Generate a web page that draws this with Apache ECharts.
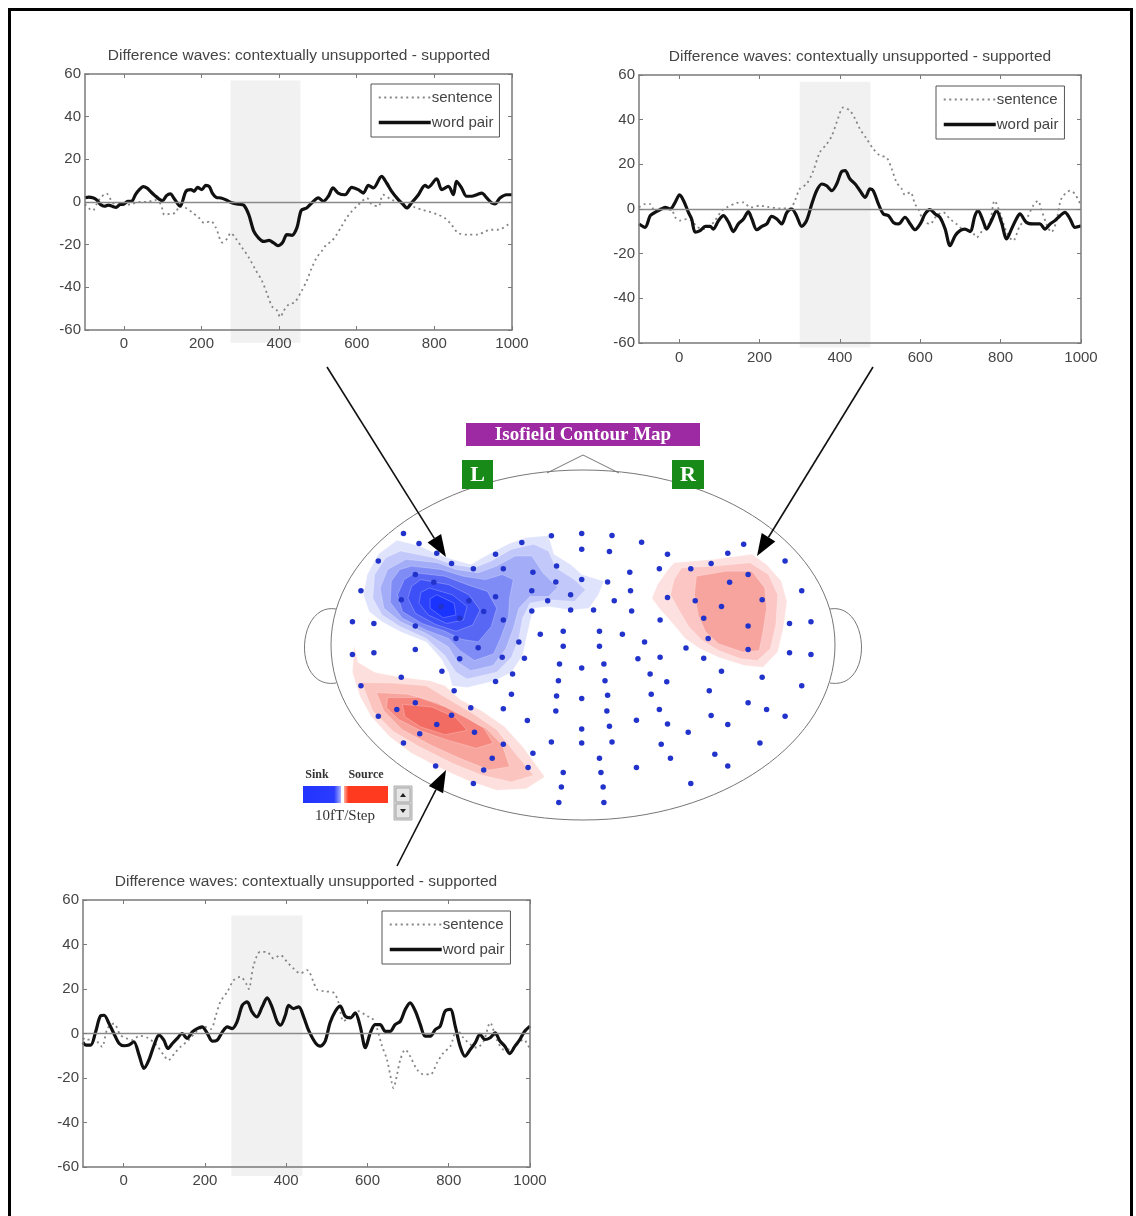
<!DOCTYPE html>
<html>
<head>
<meta charset="utf-8">
<script src="https://cdn.jsdelivr.net/npm/echarts@6/dist/echarts.min.js"></script>
<style>
  html, body { margin: 0; padding: 0; background: #fff; }
  #main { width: 1136px; height: 1216px; }
</style>
</head>
<body>
<div id="main"></div>
<script>
// ---------- axis ticks and labels ----------
const timeTicks = [0, 200, 400, 600, 800, 1000];      // ms
const ampTicks = [-60, -40, -20, 0, 20, 40, 60];       // fT
const panelTitle = 'Difference waves: contextually unsupported - supported';
const seriesNames = ['sentence', 'word pair'];

// ---------- difference waves, [time ms, amplitude fT] ----------
// left anterior sensor (upper left panel)
const leftSentence = [[-100,-1],[-90,-3],[-80,-4],[-70,-1],[-60,2],[-45,4],[-30,0],[-15,-2],[0,-1.5],[20,-1],[40,0],[60,0],[80,1],[95,-1],[105,-6],[120,-5.5],[134,-5],[143,-2],[160,-2.8],[177,-5],[194,-7.5],[207,-9.8],[224,-9],[237,-12],[254,-19],[267,-17],[275,-14.5],[288,-17],[305,-21.5],[322,-26],[339,-31.7],[356,-37],[369,-43],[382,-49],[395,-51],[403,-54],[412,-51],[425,-48],[440,-47],[457,-42],[471,-37],[484,-31],[497,-26],[510,-23],[522,-20],[535,-18.4],[548,-15.3],[561,-11.4],[574,-7.5],[587,-4.4],[600,-2],[613,0.3],[626,1.9],[639,-1.2],[656,-2],[668,3.4],[690,1],[710,0],[730,-1],[750,-2.5],[767,-3.6],[784,-4.4],[810,-6],[827,-7.5],[844,-10.6],[861,-14.5],[887,-15.3],[913,-15.3],[930,-13.8],[948,-13],[965,-13],[990,-10.6],[1000,-10]];
const leftWordPair = [[-100,2],[-90,2.3],[-80,2],[-70,1],[-60,-1.2],[-50,-2],[-40,-1.5],[-30,-2],[-20,-2.5],[-10,-1.2],[0,-1],[10,0.3],[20,0.3],[30,3.5],[40,5.8],[50,7.2],[60,6.5],[70,4.7],[80,3],[90,1.5],[100,0.6],[110,3],[120,3.8],[130,1.5],[145,-2],[160,5],[173,5.8],[181,5],[190,6.9],[201,5.8],[211,7.8],[220,7.3],[228,4.2],[238,2.2],[250,1.9],[262,1.1],[280,-0.5],[297,-1],[309,-1.5],[322,-6],[335,-13.8],[348,-17],[360,-18.5],[374,-18],[386,-19.2],[397,-20.5],[409,-19],[420,-15.3],[433,-15.6],[446,-12],[457,-4],[471,-2.8],[484,-0.5],[501,1.9],[514,0.3],[527,2.7],[539,6.6],[552,4.2],[570,3.4],[587,6.9],[604,5.8],[617,4.2],[630,7.8],[643,6.6],[664,12],[677,8.9],[690,5],[707,1.1],[720,-1.25],[729,-2.8],[741,-0.5],[759,3.4],[776,7.8],[784,6.9],[806,10.9],[819,5.8],[836,7.3],[849,3.4],[857,9.7],[870,6.6],[883,2.7],[896,2.7],[909,3.4],[922,4.2],[935,1.9],[948,-0.5],[956,-0.9],[969,1.9],[986,3.4],[1000,3.4]];

// right anterior sensor (upper right panel)
const rightSentence = [[-100,0.7],[-85,2.2],[-72,2.2],[-60,-1.5],[-47,0.3],[-22,0.7],[-10,-3.7],[2,-5.2],[19,-4.5],[31,-5.2],[45,-8],[60,-9],[75,-8],[90,-5],[105,-1],[118,0.7],[143,2.7],[160,3],[177,0.7],[201,1.5],[218,1],[251,0.3],[276,0.3],[288,3.7],[300,9],[317,11.2],[334,17.2],[350,25.4],[367,29],[380,32.8],[392,38.8],[409,45.5],[425,44],[438,40.3],[450,35.8],[467,31.3],[483,26.9],[500,23.9],[516,23.1],[529,17.9],[541,11.9],[554,9],[562,6.3],[575,7.5],[587,2.2],[595,0],[608,-5.2],[624,-6.7],[641,-3],[657,-1.5],[674,-4.5],[690,-6.7],[707,-9],[724,-9],[740,-12.7],[757,-9],[773,-6],[785,3.7],[798,-1.5],[815,-10.4],[831,-14.2],[848,-7.5],[864,-4.5],[881,1.5],[893,3.7],[901,0],[914,-6.7],[926,-10.4],[938,-6],[951,4.5],[973,8.2],[985,6.7],[1000,1.5]];
const rightWordPair = [[-100,-6.7],[-85,-8.2],[-72,-3],[-60,-1.5],[-47,-0.3],[-35,0.7],[-22,0],[-10,3],[1,6.3],[11,3.7],[23,-1.5],[31,-4.5],[40,-10.4],[52,-9.7],[65,-7.8],[77,-7.8],[85,-9],[98,-5.2],[110,-3],[123,-6],[135,-10.1],[147,-6.7],[160,-4.5],[172,-1.2],[181,-4.5],[193,-9.3],[206,-7.8],[218,-6.7],[230,-3.3],[243,-4.5],[255,-6.7],[268,-1.5],[280,0],[292,-3],[305,-7.8],[317,-5.2],[330,2.2],[342,8.2],[355,11.2],[367,10.4],[380,8.2],[392,11.2],[404,16.7],[413,17.2],[425,13.4],[438,11.2],[450,8.2],[463,5.2],[475,9],[483,8.2],[496,2.2],[508,-2.2],[521,-3],[533,-6],[546,-6.7],[562,-3.7],[575,-6.7],[587,-9.3],[600,-6.7],[612,-2.2],[624,-0.3],[637,-2.2],[649,-3.7],[662,-9],[674,-16.4],[687,-11.9],[699,-9.7],[711,-9],[724,-10.1],[736,-3],[744,-0.7],[756,-5.2],[765,-9],[777,-5.2],[790,-0.7],[802,-6],[815,-13.4],[827,-9],[839,-4.5],[848,-2.2],[864,-6],[881,-6.7],[898,-6.7],[910,-9],[923,-6.7],[935,-5.2],[948,-3],[960,-1.5],[973,-4.5],[985,-8.2],[1000,-7.5]];

// left posterior sensor (lower panel)
const lowerSentence = [[-100,-2],[-93,-3],[-73,-2.2],[-61,-4.5],[-53,-6],[-40,2.2],[-24,4.5],[-8,-0.7],[5,-2],[20,-3],[40,-1],[60,-2],[80,-5],[100,-10],[110,-12],[125,-9],[140,-6],[160,-3],[180,1],[200,3],[215,2],[226,7.5],[238,14.2],[255,18.7],[271,24],[287,25.5],[304,21.7],[308,20],[320,30.7],[336,36.7],[353,36.6],[369,33.7],[386,35.2],[402,32.2],[418,29.2],[435,27],[451,28.5],[476,19.8],[492,19],[517,18.3],[529,13.8],[541,5.5],[558,7.8],[578,10],[599,7.8],[611,7],[623,2.5],[636,-5.7],[648,-11.7],[660,-22.2],[664,-24.5],[672,-19.2],[681,-11.7],[693,-7.2],[705,-10.2],[722,-16.2],[738,-18.4],[755,-18.4],[771,-13.2],[787,-8.7],[804,-5.7],[820,1.8],[836,-1.9],[853,-4.9],[869,-6.4],[886,-3.4],[902,4.8],[918,-2.7],[935,-7.2],[951,-7.2],[967,-4.9],[984,-2.7],[1000,-7.2]];
const lowerWordPair = [[-100,-4],[-93,-5.2],[-81,-5.2],[-69,0.7],[-57,7.9],[-48,8.2],[-36,4.5],[-24,0],[-11,-4.5],[1,-5.5],[13,-5.2],[25,-3.7],[38,-9.7],[50,-15.7],[62,-12],[75,-5.2],[87,-0.7],[99,-3],[109,-6.7],[120,-4.5],[132,-2.2],[144,0],[156,-2.2],[169,0.7],[181,2.2],[193,3],[206,0],[218,-3.4],[230,-3],[243,0.7],[255,3],[267,2.2],[279,5.2],[292,12.7],[304,14.2],[316,9.7],[328,7.5],[341,12],[353,16],[365,12],[378,5.2],[386,3.7],[398,8.2],[406,12.7],[418,11.2],[431,12],[443,7.5],[455,1.5],[472,-4.2],[484,-5.7],[496,-3.4],[508,4.8],[521,10],[533,12.3],[545,7.8],[558,7],[570,9.3],[582,3.3],[595,-6.4],[607,0.3],[619,4],[631,4],[644,1],[656,1],[668,4],[681,5.5],[693,10.8],[705,13.8],[718,10],[730,4],[742,-1.2],[755,-1.2],[767,1.8],[779,3.3],[791,10],[804,10.8],[816,3.3],[828,-5.7],[840,-10.2],[853,-7.2],[865,-4.2],[877,-0.4],[889,-2.7],[902,-1.9],[914,0.3],[926,-3.4],[938,-5.7],[950,-9],[963,-5.7],[975,-2.7],[987,1],[1000,3.3]];

// analysis windows: [start ms, end ms, lower fT, upper fT]
const leftWindow = [275, 455, -66, 57];
const rightWindow = [300, 476, -62, 57];
const lowerWindow = [265, 440, -64, 53];

// ---------- sensor layout (layout units, y grows toward the back) ----------
const sensorX = [308,350,240,398,438,497,557,628,708,790,872,952,790,865,578,658,722,340,390,193,302,410,485,557,460,525,578,655,720,790,860,920,922,878,698,760,655,760,822,925,1000,1022,1085,1140,1185,1228,1340,1385,1240,1190,1022,1097,1168,1278,1002,1120,1240,1352,1410,1132,1240,1352,1410,1072,1120,1002,942,960,900,838,838,740,678,740,620,635,575,510,450,340,228,170,170,228,340,460,412,302,193,240,290,340,398,352,438,500,578,548,525,308,395,497,645,658,708,790,872,838,740,842,735,848,728,850,790,865,938,1005,1030,938,1085,1150,1185,1272,1078,1022,1000,978,1020,975,1168,1278,1385,1135,1240,1290,1340,1140,1185,720,858,722,790,860,727,853,730,790,850,603,557,445,490,578,643,600];
const sensorY = [378,408,460,437,467,483,440,405,385,378,384,404,425,432,483,493,475,500,523,548,575,595,578,566,630,610,635,548,522,515,522,493,548,578,578,560,608,605,605,608,483,440,483,467,437,410,460,548,500,523,568,578,595,575,635,630,653,645,640,690,722,732,737,718,748,745,750,700,677,668,713,668,677,713,700,748,745,717,690,653,645,640,737,732,722,750,787,805,830,920,900,880,945,972,917,968,1003,1045,1080,1000,1068,1120,1072,1030,997,1000,997,1045,1087,1087,1130,1130,1176,1176,958,950,932,1003,1045,1072,1120,1033,1068,1000,968,943,900,855,818,795,787,805,830,845,880,900,920,918,945,905,905,860,868,858,815,815,765,777,765,795,817,845,895,898,933,855];

// isofield levels, outermost first (layout units)
const sinkLevels = [
  [[290,398],[350,415],[400,440],[440,455],[490,470],[530,445],[590,410],[640,390],[700,385],[715,440],[760,470],[790,500],[850,520],[835,560],[810,600],[760,605],[700,595],[660,600],[650,640],[640,690],[630,740],[600,790],[555,815],[480,835],[440,830],[430,790],[410,750],[370,700],[300,670],[250,640],[215,610],[200,560],[210,500],[240,440]],
  [[300,430],[390,450],[440,470],[500,480],[545,460],[600,425],[660,410],[700,430],[720,480],[770,515],[800,545],[770,580],[700,575],[650,585],[630,630],[620,690],[600,745],[560,790],[480,810],[450,790],[420,740],[370,690],[300,655],[250,620],[225,570],[230,500],[260,450]],
  [[315,455],[400,465],[450,485],[510,495],[560,475],[610,445],[655,445],[685,495],[725,538],[700,565],[650,565],[620,600],[605,660],[585,720],[550,770],[490,785],[455,760],[430,715],[370,675],[300,640],[255,600],[245,540],[265,485]],
  [[330,475],[410,485],[470,505],[530,515],[575,500],[605,515],[595,570],[592,625],[572,685],[552,735],[500,755],[460,725],[430,690],[370,665],[305,630],[272,582],[275,520],[298,485]],
  [[340,495],[420,505],[480,530],[535,550],[560,600],[545,655],[510,700],[465,692],[420,668],[358,645],[305,610],[292,560],[310,515]],
  [[355,515],[430,530],[485,560],[515,605],[495,650],[450,668],[395,648],[340,615],[320,570],[330,535]],
  [[378,540],[440,560],[480,595],[470,635],[425,645],[375,620],[350,585],[355,553]],
  [[398,560],[445,585],[450,620],[415,628],[380,600],[380,572]]
];
const sourceRightLevels = [
  [[1040,465],[1150,455],[1250,440],[1290,470],[1330,520],[1345,580],[1335,660],[1320,730],[1280,775],[1230,770],[1160,745],[1110,720],[1070,690],[1040,650],[1000,600],[980,570],[995,530],[1020,490]],
  [[1060,480],[1150,475],[1245,465],[1295,500],[1320,560],[1315,650],[1300,720],[1265,755],[1220,750],[1160,725],[1115,695],[1080,655],[1050,600],[1030,560],[1040,515]],
  [[1100,505],[1180,490],[1250,490],[1285,540],[1290,600],[1280,670],[1270,725],[1225,730],[1160,705],[1125,670],[1105,620],[1095,560]]
];
const sourceLeftLevels = [
  [[175,710],[185,760],[230,790],[300,805],[380,815],[420,830],[460,870],[520,905],[580,950],[630,1010],[690,1100],[640,1135],[560,1140],[480,1110],[400,1070],[330,1030],[270,980],[220,920],[190,860],[170,790]],
  [[195,820],[280,822],[370,830],[430,870],[500,915],[560,960],[610,1030],[660,1095],[600,1115],[520,1095],[440,1060],[350,1010],[280,965],[225,905]],
  [[235,850],[320,855],[400,880],[470,925],[530,955],[575,1005],[595,1070],[540,1080],[460,1045],[380,1005],[305,960],[255,905]],
  [[265,865],[350,865],[420,892],[482,928],[525,955],[550,1000],[505,1015],[430,992],[358,965],[295,930],[262,895]],
  [[305,885],[385,893],[450,925],[480,962],[420,975],[355,952],[312,922]]
];

// ---------- styling ----------
const sinkColors = ['#dfe3fc','#c2c9fa','#a2acf7','#7f8cf5','#5868f5','#3d50f7','#2b41fa','#1b33ff'];
const sourceRightColors = ['#fde1e0','#fbc6c3','#f7a39e'];
const sourceLeftColors = ['#fde0dd','#fbc4bf','#f8a59e','#f5877f','#f26c63'];
const axisGrey = '#7a7a7a';
const textGrey = '#444';
const sansFont = 'Liberation Sans, Arial, sans-serif';
const serifFont = 'Liberation Serif, Times New Roman, serif';

const panels = [
  { box: { left: 85, top: 74, width: 427, height: 256 }, titleAt: [299, 56], legendAt: [371, 84],
    sentence: leftSentence, word: leftWordPair, win: leftWindow },
  { box: { left: 639, top: 75, width: 442, height: 268 }, titleAt: [860, 57], legendAt: [936, 86],
    sentence: rightSentence, word: rightWordPair, win: rightWindow },
  { box: { left: 83, top: 900, width: 447, height: 267 }, titleAt: [306, 882], legendAt: [382, 911],
    sentence: lowerSentence, word: lowerWordPair, win: lowerWindow }
];

const grid = [], xAxis = [], yAxis = [], series = [], legend = [], graphic = [];
const plain = (v) => String(v);

panels.forEach((p, i) => {
  grid.push(Object.assign({ containLabel: false }, p.box));
  const tick = { inside: true, length: 4, lineStyle: { color: axisGrey, width: 1 } };
  const line = { onZero: false, lineStyle: { color: axisGrey, width: 1.5 } };
  const xi = xAxis.length, yi = yAxis.length;
  ['bottom', 'top'].forEach((pos) => {
    xAxis.push({
      gridIndex: i, type: 'value', min: -100, max: 1000, position: pos, z: 5,
      axisLine: line,
      axisTick: Object.assign({ customValues: timeTicks }, tick),
      axisLabel: pos === 'bottom'
        ? { customValues: timeTicks, formatter: plain, color: textGrey, fontSize: 15, margin: i === 1 ? 7 : 6, fontFamily: sansFont }
        : { show: false },
      splitLine: { show: false }
    });
  });
  ['left', 'right'].forEach((pos) => {
    yAxis.push({
      gridIndex: i, type: 'value', min: ampTicks[0], max: ampTicks[ampTicks.length - 1], interval: 20, position: pos, z: 5,
      axisLine: line,
      axisTick: tick,
      axisLabel: pos === 'left'
        ? { formatter: plain, color: textGrey, fontSize: 15, margin: 4, fontFamily: sansFont }
        : { show: false },
      splitLine: { show: false }
    });
  });

  // shaded analysis window
  series.push({
    type: 'custom', xAxisIndex: xi, yAxisIndex: yi, clip: false, z: 1, silent: true,
    data: [p.win],
    renderItem: (params, api) => {
      const a = api.coord([api.value(0), api.value(3)]);
      const b = api.coord([api.value(1), api.value(2)]);
      return { type: 'rect', shape: { x: a[0], y: a[1], width: b[0] - a[0], height: b[1] - a[1] },
               style: { fill: '#f1f1f1' } };
    }
  });
  series.push({
    name: seriesNames[0], type: 'line', xAxisIndex: xi, yAxisIndex: yi, z: 3,
    data: p.sentence, symbol: 'none', showSymbol: false, smooth: 0.3,
    itemStyle: { color: '#858585' },
    lineStyle: { color: '#858585', width: 1.8, type: [2, 3.5] },
    markLine: {
      silent: true, symbol: ['none', 'none'], label: { show: false },
      lineStyle: { color: '#8a8a8a', width: 1.3, type: 'solid' },
      data: [{ yAxis: 0 }]
    }
  });
  series.push({
    name: seriesNames[1], type: 'line', xAxisIndex: xi, yAxisIndex: yi, z: 4,
    data: p.word, symbol: 'none', showSymbol: false, smooth: 0.3,
    itemStyle: { color: '#111' },
    lineStyle: { color: '#111', width: 3.2 }
  });

  legend.push({
    left: p.legendAt[0], top: p.legendAt[1], orient: 'vertical', selectedMode: false,
    data: [
      { name: seriesNames[0], lineStyle: { width: 1.8 } },
      { name: seriesNames[1], lineStyle: { width: 3.5 } }
    ],
    itemStyle: { opacity: 0, borderWidth: 0 },
    itemWidth: 52, itemHeight: 14, itemGap: 10,
    borderColor: '#555', borderWidth: 1, backgroundColor: '#fff',
    padding: [6, 6, 7, 6], z: 8,
    textStyle: { fontSize: 15, color: textGrey, fontFamily: sansFont, padding: [0, 0, 0, -4] }
  });

  graphic.push({
    type: 'text', x: p.titleAt[0], y: p.titleAt[1], z: 10,
    style: { text: panelTitle, fill: textGrey, font: '15.5px ' + sansFont, align: 'center', verticalAlign: 'middle' }
  });
});

// ---------- scalp map ----------
const headGrid = grid.length;
const headX = xAxis.length, headY = yAxis.length;
grid.push({ left: 331, top: 470, width: 504, height: 350 });
xAxis.push({ gridIndex: headGrid, type: 'value', min: 112, max: 1475, show: false });
yAxis.push({ gridIndex: headGrid, type: 'value', min: 190, max: 1228, inverse: true, show: false });

function contourSeries(levels, colors) {
  return {
    type: 'custom', xAxisIndex: headX, yAxisIndex: headY, z: 2, silent: true, clip: false,
    data: levels.map((_, k) => [k]),
    renderItem: (params, api) => {
      const pts = levels[params.dataIndex].map((q) => api.coord(q));
      return { type: 'polygon', shape: { points: pts },
               style: { fill: colors[params.dataIndex], stroke: 'rgba(255,255,255,0.3)', lineWidth: 0.8 } };
    }
  };
}
series.push(contourSeries(sinkLevels, sinkColors));
series.push(contourSeries(sourceRightLevels, sourceRightColors));
series.push(contourSeries(sourceLeftLevels, sourceLeftColors));
series.push({
  type: 'scatter', xAxisIndex: headX, yAxisIndex: headY, z: 3, silent: true,
  symbolSize: 5.5, itemStyle: { color: '#2233cc', opacity: 1 },
  data: sensorX.map((x, i) => [x, sensorY[i]])
});

// head outline, ears and nose
graphic.push(
  { type: 'bezierCurve', z: 1, shape: { x1: 336, y1: 609, cpx1: 296, cpy1: 602, cpx2: 292, cpy2: 690, x2: 336, y2: 683 },
    style: { fill: 'none', stroke: '#777', lineWidth: 1 } },
  { type: 'bezierCurve', z: 1, shape: { x1: 830, y1: 609, cpx1: 870, cpy1: 602, cpx2: 874, cpy2: 690, x2: 830, y2: 683 },
    style: { fill: 'none', stroke: '#777', lineWidth: 1 } },
  { type: 'polyline', z: 1, shape: { points: [[547, 473], [583, 455], [619, 473]] }, style: { fill: 'none', stroke: '#777', lineWidth: 1 } },
  { type: 'ellipse', z: 1, shape: { cx: 583, cy: 645, rx: 252, ry: 175 }, style: { fill: 'none', stroke: '#777', lineWidth: 1 } }
);

// map heading and hemisphere tags
graphic.push(
  { type: 'rect', z: 10, shape: { x: 466, y: 423, width: 234, height: 23 }, style: { fill: '#9d2aa3' } },
  { type: 'text', z: 11, x: 583, y: 435, style: { text: 'Isofield Contour Map', fill: '#fff', font: 'bold 19px ' + serifFont, align: 'center', verticalAlign: 'middle' } },
  { type: 'rect', z: 10, shape: { x: 462, y: 460, width: 31, height: 29 }, style: { fill: '#178a17' } },
  { type: 'text', z: 11, x: 477.5, y: 475, style: { text: 'L', fill: '#fff', font: 'bold 22px ' + serifFont, align: 'center', verticalAlign: 'middle' } },
  { type: 'rect', z: 10, shape: { x: 672, y: 460, width: 32, height: 29 }, style: { fill: '#178a17' } },
  { type: 'text', z: 11, x: 688, y: 475, style: { text: 'R', fill: '#fff', font: 'bold 22px ' + serifFont, align: 'center', verticalAlign: 'middle' } }
);

// sink / source key
graphic.push(
  { type: 'text', z: 10, x: 317, y: 775, style: { text: 'Sink', fill: '#333', font: 'bold 12px ' + serifFont, align: 'center', verticalAlign: 'middle' } },
  { type: 'text', z: 10, x: 366, y: 775, style: { text: 'Source', fill: '#333', font: 'bold 12px ' + serifFont, align: 'center', verticalAlign: 'middle' } },
  { type: 'rect', z: 10, shape: { x: 303, y: 786, width: 38, height: 17 },
    style: { fill: new echarts.graphic.LinearGradient(0, 0, 1, 0, [
      { offset: 0, color: '#2233ff' }, { offset: 0.82, color: '#2a3cff' }, { offset: 1, color: '#aab3ff' }]) } },
  { type: 'rect', z: 10, shape: { x: 344, y: 786, width: 44, height: 17 },
    style: { fill: new echarts.graphic.LinearGradient(0, 0, 1, 0, [
      { offset: 0, color: '#ffb0a0' }, { offset: 0.1, color: '#ff3a1e' }, { offset: 1, color: '#ff3a1e' }]) } },
  { type: 'text', z: 10, x: 345, y: 816, style: { text: '10fT/Step', fill: '#333', font: '15px ' + serifFont, align: 'center', verticalAlign: 'middle' } },
  { type: 'rect', z: 10, shape: { x: 394, y: 786, width: 18, height: 34 }, style: { fill: '#d6d6d6', stroke: '#b0b0b0', lineWidth: 1 } },
  { type: 'rect', z: 11, shape: { x: 396, y: 788, width: 14, height: 14 }, style: { fill: '#e6e6e6', stroke: '#9a9a9a', lineWidth: 0.8 } },
  { type: 'rect', z: 11, shape: { x: 396, y: 804, width: 14, height: 14 }, style: { fill: '#e6e6e6', stroke: '#9a9a9a', lineWidth: 0.8 } },
  { type: 'polygon', z: 12, shape: { points: [[400, 797], [406, 797], [403, 793]] }, style: { fill: '#222' } },
  { type: 'polygon', z: 12, shape: { points: [[400, 809], [406, 809], [403, 813]] }, style: { fill: '#222' } }
);

// pointers from each waveform panel to its sensor region
function pointer(from, tip) {
  const dx = tip[0] - from[0], dy = tip[1] - from[1];
  const len = Math.hypot(dx, dy), ux = dx / len, uy = dy / len;
  const head = 22, half = 8;
  const bx = tip[0] - ux * head, by = tip[1] - uy * head;
  return [
    { type: 'line', z: 20, shape: { x1: from[0], y1: from[1], x2: bx, y2: by }, style: { stroke: '#111', lineWidth: 1.6 } },
    { type: 'polygon', z: 20, shape: { points: [tip, [bx - uy * half, by + ux * half], [bx + uy * half, by - ux * half]] }, style: { fill: '#000' } }
  ];
}
graphic.push(...pointer([327, 367], [446, 557]));
graphic.push(...pointer([873, 367], [757, 556]));
graphic.push(...pointer([397, 866], [446, 770]));

// outer frame
graphic.push({ type: 'rect', z: 30, shape: { x: 9.5, y: 9.5, width: 1122, height: 1260 },
               style: { fill: 'none', stroke: '#000', lineWidth: 3 } });

const chart = echarts.init(document.getElementById('main'), null, { renderer: 'canvas' });
chart.setOption({
  backgroundColor: '#fff',
  animation: false,
  grid, xAxis, yAxis, series, legend,
  graphic: { elements: graphic }
});
</script>
</body>
</html>
